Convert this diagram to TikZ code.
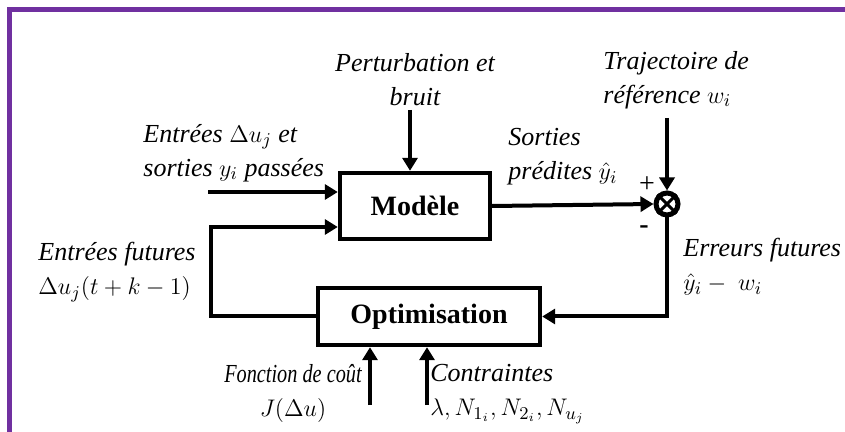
\documentclass[tikz,border=0pt]{standalone}
\usepackage{fontspec}
\setmainfont{Liberation Serif}
\usetikzlibrary{arrows.meta}
\definecolor{framepurple}{HTML}{7030A0}
\begin{document}
\begin{tikzpicture}[x=0.5pt, y=-0.5pt, font=\fontsize{13}{17}\selectfont\itshape]
    \tikzstyle{block}=[
        draw, line width=2.2pt, inner sep=0pt,
        font=\fontsize{14}{17}\selectfont\bfseries\upshape]
    \tikzstyle{txt}=[inner sep=0pt, align=left, anchor=west]
    \tikzstyle{connector}=[line width=2pt, -{Triangle[length=6.5pt, width=7.5pt]}]
    \useasboundingbox (0,0) rectangle (845,432);
    \draw [framepurple, line width=2.5pt] (9.5,440) -- (9.5,9.5) -- (850,9.5);

    % blocks
    \node [block, minimum width=75pt, minimum height=33pt] (model) at (415,206) {Modèle};
    \node [block, minimum width=111pt, minimum height=28.5pt] (optim) at (429,316.5) {Optimisation};
    \node [circle, draw, line width=2.5pt, minimum size=11pt, inner sep=0pt] (sum) at (667,204) {};
    \draw [line width=1.5pt] (sum.north west) -- (sum.south east)
        (sum.north east) -- (sum.south west);

    % free ends
    \coordinate (pastin) at (208,192);
    \coordinate (loop) at (211,227);
    \coordinate (perturb) at (410,110);
    \coordinate (refin) at (667,118);
    \coordinate (costin) at (370,405);
    \coordinate (constin) at (427,405);

    \draw [connector] (pastin) -- (pastin -| model.west);
    \draw [connector] (optim.west) -| (loop) -- (loop -| model.west);
    \draw [connector] (perturb) -- (perturb |- model.north);
    \draw [connector] (model.east) -- (sum.west);
    \draw [connector] (refin) -- (sum.north);
    \draw [connector] (sum.south) |- (optim.east);
    \draw [connector] (costin) -- (costin |- optim.south);
    \draw [connector] (constin) -- (constin |- optim.south);

    % labels
    \node [txt, align=center, anchor=center] (perturbtxt) at (415,80) {Perturbation et\\bruit};
    \node [txt] (reftxt) at (603,80) {Trajectoire de\\référence $w_i$};
    \node [txt] (pasttxt) at (143,153) {Entrées $\Delta u_j$ et\\sorties $y_i$ passées};
    \node [txt] (predtxt) at (508,157) {Sorties\\prédites $\hat{y}_i$};
    \node [inner sep=0pt, font=\fontsize{14}{17}\selectfont\upshape] (plus) at (647,185) {+};
    \node [inner sep=0pt, font=\fontsize{14}{17}\selectfont\bfseries\upshape] (minus) at (644,230) {-};
    \node [txt] (errtxt) at (683,267) {Erreurs futures\\$\hat{y}_i -\ w_i$};
    \node [txt] (futtxt) at (38,272) {Entrées futures\\$\Delta u_j(t+k-1)$};
    \node [txt, align=center, anchor=center] (costtxt) at (293,393)
        {\scalebox{0.78}[1]{Fonction de coût}\\$J(\Delta u)$\hspace{16pt}};
    \node [txt] (consttxt) at (430,394) {Contraintes\\$\lambda, N_{1_i}, N_{2_i}, N_{u_j}$};
\end{tikzpicture}
\end{document}
